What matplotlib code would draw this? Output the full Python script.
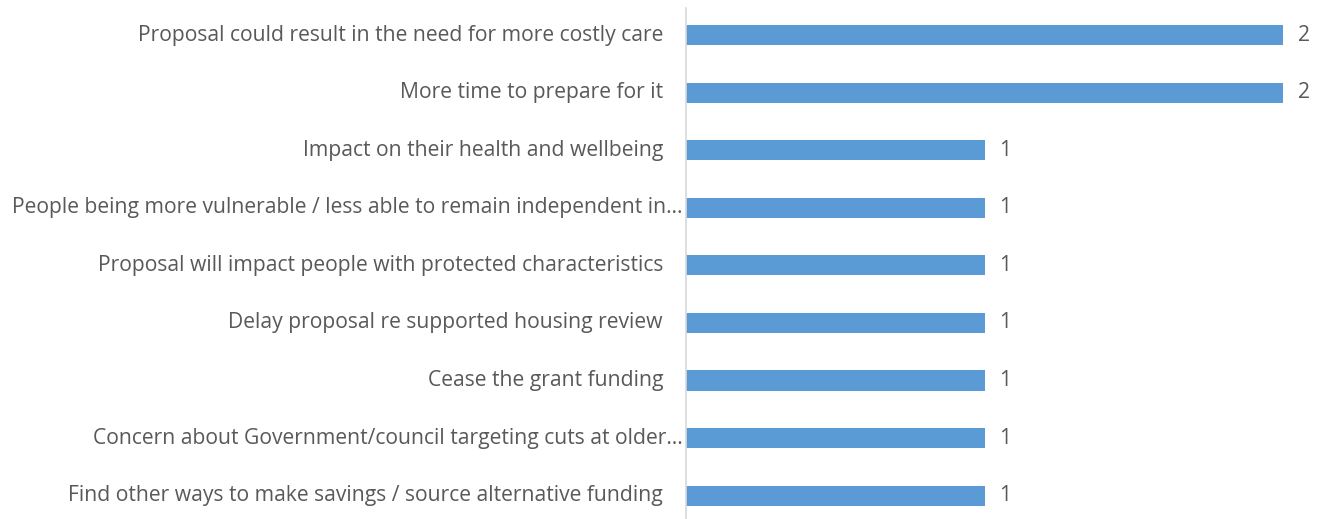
import matplotlib.pyplot as plt
from matplotlib.transforms import offset_copy, blended_transform_factory

categories = [
    "Proposal could result in the need for more costly care",
    "More time to prepare for it",
    "Impact on their health and wellbeing",
    "People being more vulnerable / less able to remain independent in\u2026",
    "Proposal will impact people with protected characteristics",
    "Delay proposal re supported housing review",
    "Cease the grant funding",
    "Concern about Government/council targeting cuts at older\u2026",
    "Find other ways to make savings / source alternative funding",
]
counts = [2, 2, 1, 1, 1, 1, 1, 1, 1]

bar_color = "#5B9BD5"
text_color = "#595959"

plt.rcParams['font.family'] = ['Open Sans', 'DejaVu Sans']

fig = plt.figure(figsize=(13.17, 5.19), dpi=100)
ax = fig.add_axes([686 / 1317, 0, 627 / 1317, 1 - 8 / 519])

ypos = list(range(len(categories)))
ax.barh(ypos, counts, height=0.35, color=bar_color)
ax.set_xlim(0, 2.1)
ax.set_ylim(8.405, -0.469)

ax.set_xticks([])
ax.set_yticks([])
for side in ['top', 'right', 'bottom']:
    ax.spines[side].set_visible(False)
ax.spines['left'].set_color('#D9D9D9')
ax.spines['left'].set_linewidth(1.2)

# category labels, truncated ones sit closer to the axis
trans = blended_transform_factory(ax.transAxes, ax.transData)
for y, lab in zip(ypos, categories):
    pad = -3 if lab.endswith('\u2026') else -23
    t = offset_copy(trans, fig=fig, x=pad, y=0, units='dots')
    ax.text(0, y, lab, transform=t, ha='right', va='center',
            fontsize=15.2, color=text_color)

# value labels
for y, v in zip(ypos, counts):
    t = offset_copy(ax.transData, fig=fig, x=15, y=0, units='dots')
    ax.text(v, y, str(v), transform=t, ha='left', va='center',
            fontsize=15.2, color=text_color)

fig.savefig('out.png', dpi=100)
